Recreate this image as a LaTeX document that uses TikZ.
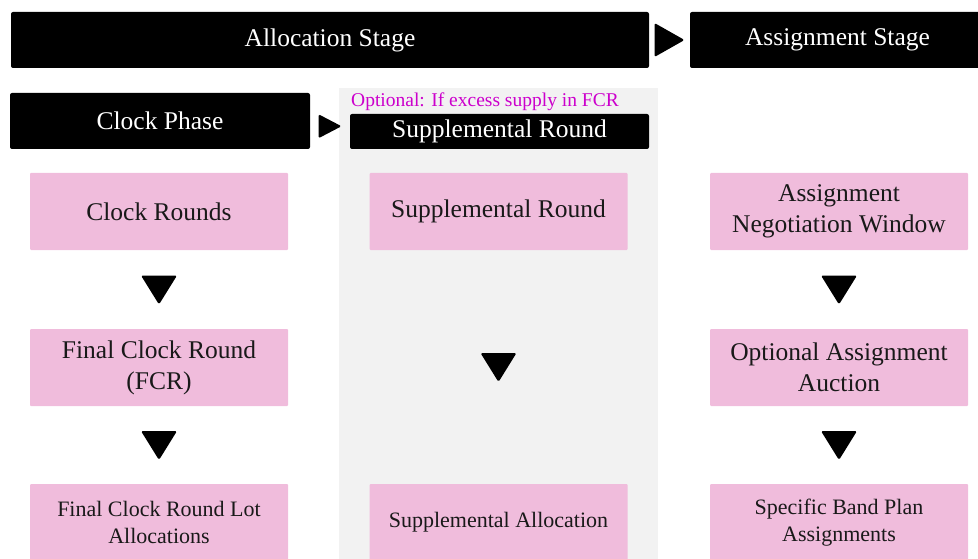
\documentclass[tikz,border=0pt]{standalone}
\usepackage{fontspec}
\setmainfont{Liberation Serif}
\usetikzlibrary{calc}
\definecolor{boxpink}{HTML}{F0BCDC}
\definecolor{panelgrey}{HTML}{F2F2F2}
\definecolor{notemagenta}{HTML}{CC00CC}
\tikzset{
  bar/.style={fill=black, text=white, rounded corners=2pt, inner sep=0pt,
    minimum height=56pt, font=\fontsize{25.5}{31}\selectfont},
  stepbox/.style={fill=boxpink, text=black!90, rounded corners=1pt, inner sep=0pt,
    minimum width=258pt, minimum height=77pt, align=center,
    font=\fontsize{25.5}{31}\selectfont},
  small/.style={font=\fontsize{22}{27}\selectfont},
  tri/.style={fill=black, rounded corners=1.5pt}
}

\begin{document}
\begin{tikzpicture}[x=1pt,y=-1pt]
            \useasboundingbox (0,0) rectangle (978,559);
            \fill[panelgrey] (339,88) rectangle (658,559);
            % stages
            \node[bar, minimum width=638pt] (alloc) at (330,40) {Allocation Stage};
            \node[bar, minimum width=295pt] (assign) at (837.5,40) {Assignment Stage};
            \node[bar, minimum width=300pt] (clock) at (160,121) {Clock Phase};
            \node[bar, minimum width=299pt, minimum height=35pt] (supp) at (499.5,131.5) {Supplemental Round};
            \node[anchor=base west, inner sep=0pt, text=notemagenta, font=\fontsize{19.5}{23}\selectfont] (opt) at (351,107) {Optional: If excess supply in FCR};
            \fill[tri, shift={($(alloc.east)!0.5!(assign.west)$)}] (-15,-17) -- (15,0) -- (-15,17) -- cycle;
            \fill[tri, shift={($(clock.east)!0.5!(supp.west)$)}] (-11.5,-12) -- (11.5,0) -- (-11.5,12) -- cycle;
            % clock phase
            \node[stepbox] (cr) at (159,211.5) {Clock Rounds};
            \node[stepbox] (fcr) at (159,367.5) {Final Clock Round\\(FCR)};
            \node[stepbox, small] (fcra) at (159,522.5) {Final Clock Round Lot\\Allocations};
            % supplemental round
            \node[stepbox] (sr) at (498.5,211.5) {Supplemental Round};
            \node[stepbox, small] (sa) at (498.5,522.5) {Supplemental Allocation};
            % assignment
            \node[stepbox] (anw) at (839,211.5) {Assignment\\Negotiation Window};
            \node[stepbox] (oaa) at (839,367.5) {Optional Assignment\\Auction};
            \node[stepbox, small] (sbp) at (839,522.5) {Specific Band Plan\\Assignments};
            \foreach \a/\b in {cr/fcr, fcr/fcra, sr/sa, anw/oaa, oaa/sbp}
                \fill[tri, shift={($(\a.south)!0.5!(\b.north)$)}] (-18,-14) -- (18,-14) -- (0,15) -- cycle;
        \end{tikzpicture}
\end{document}
